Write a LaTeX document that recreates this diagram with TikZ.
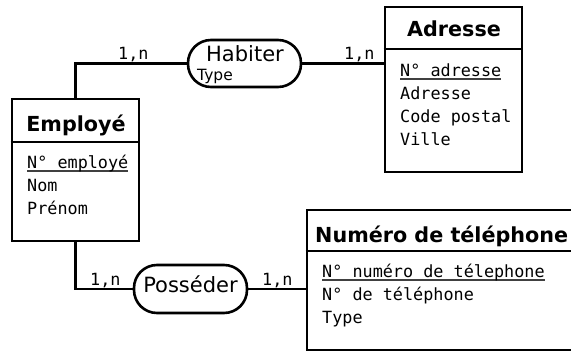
\documentclass[tikz,border=0pt]{standalone}
\usepackage{fontspec}
\setmainfont{DejaVu Sans}
\setmonofont{DejaVu Sans Mono}
\usetikzlibrary{positioning}

% identifiant souligne
\newcommand{\cle}[1]{\setbox0\hbox{#1}\rlap{\textcolor{darkgray}{\rule[-3.5pt]{\wd0}{1.3pt}}}\box0}

\tikzset{
  entity/.style={draw, line width=2.6pt, inner sep=0pt},
  etitle/.style={font=\fontsize{20.7}{24}\selectfont\bfseries, inner sep=0pt, anchor=base},
  attr/.style={font=\fontsize{16.8}{20}\selectfont\ttfamily, inner sep=0pt, anchor=base west},
  relation/.style={draw, line width=2.6pt, rounded corners=23pt, minimum width=113pt, minimum height=47pt, inner sep=0pt},
  rname/.style={font=\fontsize{21}{24}\selectfont, inner sep=0pt, anchor=base},
  card/.style={font=\fontsize{16.8}{20}\selectfont\ttfamily, inner sep=0pt, anchor=base west},
  link/.style={line width=2.6pt},
}

\begin{document}
\begin{tikzpicture}[x=1pt,y=-1pt]
  \useasboundingbox (0,0) rectangle (571,351);
  \clip (0,0) rectangle (571,351);

  % entites
  \node[entity, minimum width=127pt, minimum height=142pt] (employe) at (75.5,170) {};
  \node[etitle] (employe-t) at (76,131) {Employé};
  \draw[link] (employe.west |- 0,142) -- (employe.east |- 0,142);
  \foreach \t [count=\i from 0] in {\cle{N° employé},Nom,Prénom}
    \node[attr] (employe-a\i) at (27,168+23*\i) {\t};

  \node[entity, minimum width=137pt, minimum height=165pt] (adresse) at (453.5,89.5) {};
  \node[etitle] (adresse-t) at (454,36) {Adresse};
  \draw[link] (adresse.west |- 0,49) -- (adresse.east |- 0,49);
  \foreach \t [count=\i from 0] in {\cle{N° adresse},Adresse,Code postal,Ville}
    \node[attr] (adresse-a\i) at (400,76+23.3*\i) {\t};

  \node[entity, minimum width=293pt, minimum height=140pt] (numero) at (453.5,280) {};
  \node[etitle, anchor=base west] (numero-t) at (315,242) {Numéro de téléphone};
  \draw[link] (numero.west |- 0,251) -- (numero.east |- 0,251);
  \foreach \t [count=\i from 0] in {\cle{N° numéro de télephone},N° de téléphone,Type}
    \node[attr] (numero-a\i) at (322,277+23.3*\i) {\t};

  % associations
  \node[relation] (habiter) at (244.5,63.5) {};
  \node[rname] (habiter-t) at (245,61) {Habiter};
  \node[rname, font=\fontsize{15.5}{18}\selectfont, anchor=base west] (habiter-p) at (197,80) {Type};

  \node[relation, minimum height=48pt] (posseder) at (190.5,289) {};
  \node[rname] (posseder-t) at (190.5,292) {Posséder};

  % liens
  \draw[link] (employe.north) |- (habiter.west);
  \draw[link] (habiter.east) -- (habiter.east -| adresse.west);
  \draw[link] (employe.south) |- (posseder.west);
  \draw[link] (posseder.east) -- (posseder.east -| numero.west);

  % cardinalites
  \node[card] (c1) at (118,59) {1,n};
  \node[card] (c2) at (344,59) {1,n};
  \node[card] (c3) at (90,285) {1,n};
  \node[card] (c4) at (262,285) {1,n};
\end{tikzpicture}
\end{document}
